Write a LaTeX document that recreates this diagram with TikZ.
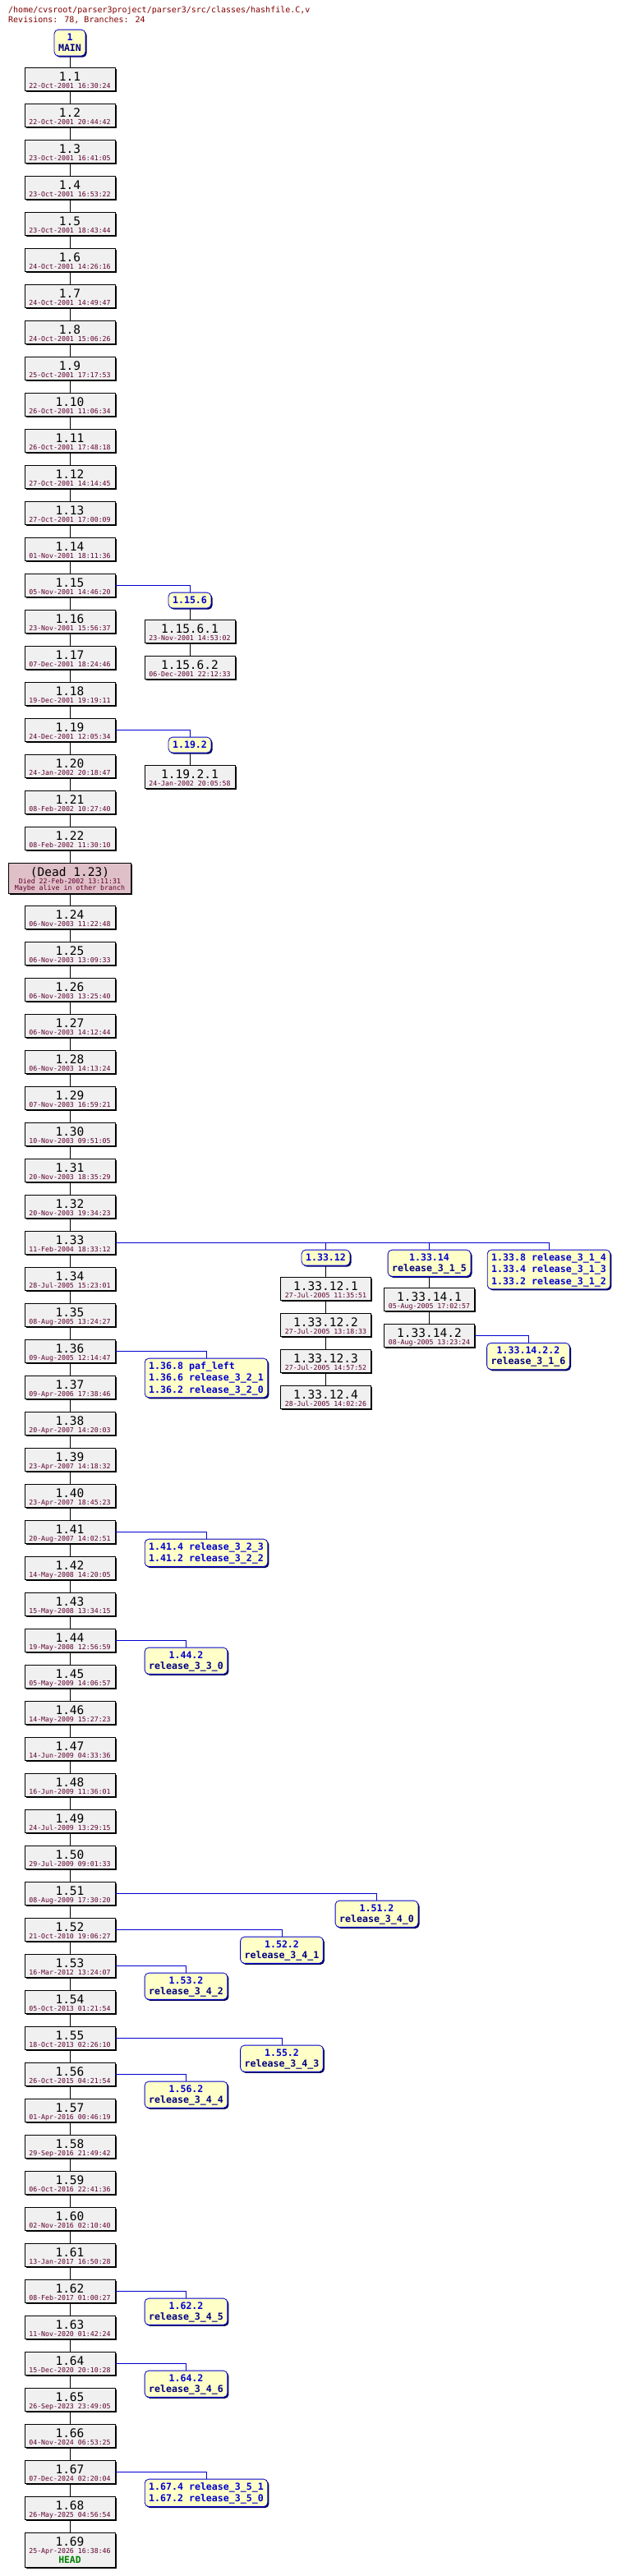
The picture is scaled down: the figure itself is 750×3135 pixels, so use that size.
\documentclass[tikz,border=0pt]{standalone}
\usepackage{fontspec}
\usetikzlibrary{shadows}
\newfontfamily\monof{DejaVu Sans Mono}
\definecolor{revfill}{HTML}{F0F0F0}
\definecolor{tagfill}{HTML}{FFFFC8}
\definecolor{tagblue}{HTML}{0000D0}
\definecolor{tagnavy}{HTML}{000080}
\definecolor{datered}{HTML}{600030}
\definecolor{titlered}{HTML}{800000}
\definecolor{deadfill}{HTML}{E0C0C8}
\definecolor{headgreen}{HTML}{008000}
\definecolor{tagshadow}{HTML}{000050}
\newcommand\revnumfont{\monof\fontsize{14.5}{16}\selectfont}
\newcommand\datefont{\monof\fontsize{8.25}{9}\selectfont\color{datered}}
\newcommand\tgs{\rule[-2.5pt]{0pt}{13pt}}
\newcommand\revtxt[2]{\vbox{\offinterlineskip
 \hbox to 110pt{\hss\smash{\revnumfont #1}\rule{0pt}{16.2pt}\hss}
 \hbox to 110pt{\hss\smash{\datefont #2}\rule[-3pt]{0pt}{11.8pt}\hss}}}
\newcommand\revhead[2]{\vbox{\offinterlineskip
 \hbox to 110pt{\hss\smash{\revnumfont #1}\rule{0pt}{16.2pt}\hss}
 \hbox to 110pt{\hss\smash{\datefont #2}\rule{0pt}{8.8pt}\hss}
 \hbox to 110pt{\hss\smash{\monof\bfseries\fontsize{11.4}{13}\selectfont\color{headgreen}HEAD}\rule[-4.6pt]{0pt}{16.9pt}\hss}}}
\newcommand\deadtxt{\vbox{\offinterlineskip
 \hbox to 149pt{\hss\smash{\revnumfont (Dead 1.23)}\rule{0pt}{16.2pt}\hss}
 \hbox to 149pt{\hss\smash{\datefont Died 22-Feb-2002 13:11:31}\rule{0pt}{9pt}\hss}
 \hbox to 149pt{\hss\smash{\datefont Maybe alive in other branch}\rule[-3.8pt]{0pt}{12pt}\hss}}}
\tikzset{
 revbox/.style={draw=black, line width=0.8pt, fill=revfill, inner sep=0pt, rectangle, anchor=north,
   drop shadow={shadow xshift=1.6pt, shadow yshift=-1.6pt, fill=black, opacity=1}},
 deadbox/.style={revbox, fill=deadfill},
 tagbox/.style={draw=tagblue, line width=0.8pt, fill=tagfill, rounded corners=5pt, anchor=north,
   inner xsep=5pt, inner ysep=3pt, align=center, text=tagblue,
   font=\monof\bfseries\fontsize{11.6}{13}\selectfont,
   drop shadow={shadow xshift=1.6pt, shadow yshift=-1.6pt, fill=tagshadow, opacity=1}},
 tagboxl/.style={tagbox, align=left},
 trunk/.style={draw=black, line width=0.8pt},
 brline/.style={draw=tagblue, line width=0.8pt},
 hdr/.style={anchor=base west, inner sep=0pt, text=titlered, font=\monof\fontsize{10}{12}\selectfont}
}
\begin{document}
\begin{tikzpicture}[x=1pt, y=-1pt]
\fill[white] (0,0) rectangle (750,3135);
\useasboundingbox (0,0) rectangle (750,3135);
\node[hdr] (title) at (10,15) {/home/cvsroot/parser3project/parser3/src/classes/hashfile.C,v};
\node[hdr] (stats) at (10,27.7) {Revisions: 78, Branches: 24};
\node[tagbox] (tmain) at (85,35.7) {\tgs 1\\\tgs\textcolor{tagnavy}{MAIN}};
\foreach \k/\d in {1/22-Oct-2001 16:30:24, 2/22-Oct-2001 20:44:42, 3/23-Oct-2001 16:41:05,
 4/23-Oct-2001 16:53:22, 5/23-Oct-2001 18:43:44, 6/24-Oct-2001 14:26:16, 7/24-Oct-2001 14:49:47,
 8/24-Oct-2001 15:06:26, 9/25-Oct-2001 17:17:53, 10/26-Oct-2001 11:06:34, 11/26-Oct-2001 17:48:18,
 12/27-Oct-2001 14:14:45, 13/27-Oct-2001 17:00:09, 14/01-Nov-2001 18:11:36, 15/05-Nov-2001 14:46:20,
 16/23-Nov-2001 15:56:37, 17/07-Dec-2001 18:24:46, 18/19-Dec-2001 19:19:11, 19/24-Dec-2001 12:05:34,
 20/24-Jan-2002 20:18:47, 21/08-Feb-2002 10:27:40, 22/08-Feb-2002 11:30:10}{
 \pgfmathsetmacro\yy{82+(\k-1)*44}
 \node[revbox] (r\k) at (85,\yy) {\revtxt{1.\k}{\d}};
}
\node[deadbox] (r23) at (85,1049.5) {\deadtxt};
\foreach \k/\d in {24/06-Nov-2003 11:22:48, 25/06-Nov-2003 13:09:33, 26/06-Nov-2003 13:25:40,
 27/06-Nov-2003 14:12:44, 28/06-Nov-2003 14:13:24, 29/07-Nov-2003 16:59:21, 30/10-Nov-2003 09:51:05,
 31/20-Nov-2003 18:35:29, 32/20-Nov-2003 19:34:23, 33/11-Feb-2004 18:33:12, 34/28-Jul-2005 15:23:01,
 35/08-Aug-2005 13:24:27, 36/09-Aug-2005 12:14:47, 37/09-Apr-2006 17:38:46, 38/20-Apr-2007 14:20:03,
 39/23-Apr-2007 14:18:32, 40/23-Apr-2007 18:45:23, 41/20-Aug-2007 14:02:51, 42/14-May-2008 14:20:05,
 43/15-May-2008 13:34:15, 44/19-May-2008 12:56:59, 45/05-May-2009 14:06:57, 46/14-May-2009 15:27:23,
 47/14-Jun-2009 04:33:36, 48/16-Jun-2009 11:36:01, 49/24-Jul-2009 13:29:15, 50/29-Jul-2009 09:01:33,
 51/08-Aug-2009 17:30:20, 52/21-Oct-2010 19:06:27, 53/16-Mar-2012 13:24:07, 54/05-Oct-2013 01:21:54,
 55/18-Oct-2013 02:26:10, 56/26-Oct-2015 04:21:54, 57/01-Apr-2016 00:46:19, 58/29-Sep-2016 21:49:42,
 59/06-Oct-2016 22:41:36, 60/02-Nov-2016 02:10:40, 61/13-Jan-2017 16:50:28, 62/08-Feb-2017 01:00:27,
 63/11-Nov-2020 01:42:24, 64/15-Dec-2020 20:10:28, 65/26-Sep-2023 23:49:05, 66/04-Nov-2024 06:53:25,
 67/07-Dec-2024 02:20:04, 68/26-May-2025 04:56:54}{
 \pgfmathsetmacro\yy{1102+(\k-24)*44}
 \node[revbox] (r\k) at (85,\yy) {\revtxt{1.\k}{\d}};
}
\node[revbox] (r69) at (85,3082) {\revhead{1.69}{25-Apr-2026 16:38:46}};
\draw[trunk] (tmain.south) -- (r1.north);
\foreach \k in {1,...,68}{
 \pgfmathtruncatemacro\n{\k+1}
 \draw[trunk] (r\k.south) -- (r\n.north);
}
% branch 1.15.6
\node[tagbox] (t15x6) at (231,720.7) {\tgs 1.15.6};
\node[revbox] (b15x6x1) at (231,754.3) {\revtxt{1.15.6.1}{23-Nov-2001 14:53:02}};
\node[revbox] (b15x6x2) at (231,798.3) {\revtxt{1.15.6.2}{06-Dec-2001 22:12:33}};
\draw[brline] (r15.east) -| (t15x6.north);
\draw[trunk] (t15x6.south) -- (b15x6x1.north);
\draw[trunk] (b15x6x1.south) -- (b15x6x2.north);
% branch 1.19.2
\node[tagbox] (t19x2) at (231,896.7) {\tgs 1.19.2};
\node[revbox] (b19x2x1) at (231,930.7) {\revtxt{1.19.2.1}{24-Jan-2002 20:05:58}};
\draw[brline] (r19.east) -| (t19x2.north);
\draw[trunk] (t19x2.south) -- (b19x2x1.north);
% branches at 1.33
\node[tagbox] (t33x12) at (396.5,1520.7) {\tgs 1.33.12};
\node[tagbox] (t33x14) at (522.5,1520.7) {\tgs 1.33.14\\\tgs\textcolor{tagnavy}{release\_3\_1\_5}};
\node[tagboxl] (t33x8) at (668,1520.7) {\tgs 1.33.8 release\_3\_1\_4\\\tgs 1.33.4 release\_3\_1\_3\\\tgs 1.33.2 release\_3\_1\_2};
\draw[brline] (r33.east) -| (t33x12.north);
\draw[brline] (r33.east) -| (t33x14.north);
\draw[brline] (r33.east) -| (t33x8.north);
\node[revbox] (b33x12x1) at (396.5,1554.3) {\revtxt{1.33.12.1}{27-Jul-2005 11:35:51}};
\node[revbox] (b33x12x2) at (396.5,1598.3) {\revtxt{1.33.12.2}{27-Jul-2005 13:18:33}};
\node[revbox] (b33x12x3) at (396.5,1642.3) {\revtxt{1.33.12.3}{27-Jul-2005 14:57:52}};
\node[revbox] (b33x12x4) at (396.5,1686.3) {\revtxt{1.33.12.4}{28-Jul-2005 14:02:26}};
\draw[trunk] (t33x12.south) -- (b33x12x1.north);
\draw[trunk] (b33x12x1.south) -- (b33x12x2.north);
\draw[trunk] (b33x12x2.south) -- (b33x12x3.north);
\draw[trunk] (b33x12x3.south) -- (b33x12x4.north);
\node[revbox] (b33x14x1) at (522.5,1567.3) {\revtxt{1.33.14.1}{05-Aug-2005 17:02:57}};
\node[revbox] (b33x14x2) at (522.5,1611.3) {\revtxt{1.33.14.2}{08-Aug-2005 13:23:24}};
\draw[trunk] (t33x14.south) -- (b33x14x1.north);
\draw[trunk] (b33x14x1.south) -- (b33x14x2.north);
\node[tagbox] (t33x14x2x2) at (643,1634) {\tgs 1.33.14.2.2\\\tgs\textcolor{tagnavy}{release\_3\_1\_6}};
\draw[brline] (b33x14x2.east) -| (t33x14x2x2.north);
% tags on trunk
\node[tagboxl] (t36) at (251,1652.7) {\tgs 1.36.8 paf\_left\\\tgs 1.36.6 release\_3\_2\_1\\\tgs 1.36.2 release\_3\_2\_0};
\draw[brline] (r36.east) -| (t36.north);
\node[tagboxl] (t41) at (251,1872.7) {\tgs 1.41.4 release\_3\_2\_3\\\tgs 1.41.2 release\_3\_2\_2};
\draw[brline] (r41.east) -| (t41.north);
\node[tagbox] (t44) at (226.5,2004.7) {\tgs 1.44.2\\\tgs\textcolor{tagnavy}{release\_3\_3\_0}};
\draw[brline] (r44.east) -| (t44.north);
\node[tagbox] (t51) at (458.5,2312.7) {\tgs 1.51.2\\\tgs\textcolor{tagnavy}{release\_3\_4\_0}};
\draw[brline] (r51.east) -| (t51.north);
\node[tagbox] (t52) at (343,2356.7) {\tgs 1.52.2\\\tgs\textcolor{tagnavy}{release\_3\_4\_1}};
\draw[brline] (r52.east) -| (t52.north);
\node[tagbox] (t53) at (226.5,2400.7) {\tgs 1.53.2\\\tgs\textcolor{tagnavy}{release\_3\_4\_2}};
\draw[brline] (r53.east) -| (t53.north);
\node[tagbox] (t55) at (343,2488.7) {\tgs 1.55.2\\\tgs\textcolor{tagnavy}{release\_3\_4\_3}};
\draw[brline] (r55.east) -| (t55.north);
\node[tagbox] (t56) at (226.5,2532.7) {\tgs 1.56.2\\\tgs\textcolor{tagnavy}{release\_3\_4\_4}};
\draw[brline] (r56.east) -| (t56.north);
\node[tagbox] (t62) at (226.5,2796.7) {\tgs 1.62.2\\\tgs\textcolor{tagnavy}{release\_3\_4\_5}};
\draw[brline] (r62.east) -| (t62.north);
\node[tagbox] (t64) at (226.5,2884.7) {\tgs 1.64.2\\\tgs\textcolor{tagnavy}{release\_3\_4\_6}};
\draw[brline] (r64.east) -| (t64.north);
\node[tagboxl] (t67) at (251,3016.7) {\tgs 1.67.4 release\_3\_5\_1\\\tgs 1.67.2 release\_3\_5\_0};
\draw[brline] (r67.east) -| (t67.north);
\end{tikzpicture}
\end{document}
